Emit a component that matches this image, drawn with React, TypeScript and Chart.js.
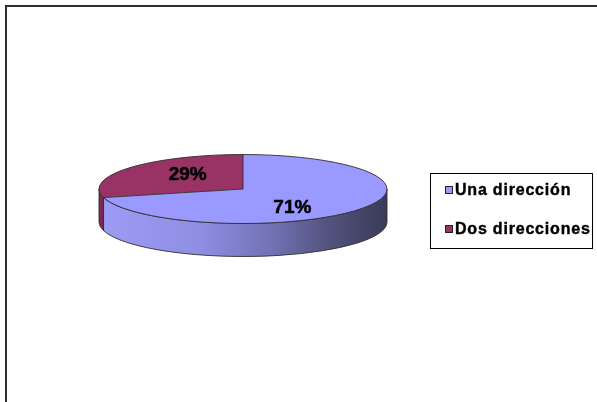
import React, { useEffect, useRef } from "react";
import { Chart, registerables } from "chart.js";

Chart.register(...registerables);

// ---- data ----
const categories: string[] = ["Una dirección", "Dos direcciones"];
const shares: number[] = [71, 29];
const topColors: string[] = ["#9999FF", "#993366"];

// ---- layout / style constants ----
const W = 597;
const H = 402;
const CX = 243;
const CY = 189;
const RX = 144;
const RY = 34.5;
const DEPTH = 33;
const FONT = '"Liberation Sans", Arial, sans-serif';

function sideFill(ctx: CanvasRenderingContext2D, i: number): CanvasGradient | string {
  if (i === 1) return "#7a2a52";
  const g = ctx.createLinearGradient(CX - RX, 0, CX + RX, 0);
  g.addColorStop(0, "#9c9cf6");
  g.addColorStop(0.35, "#8e8ee4");
  g.addColorStop(0.6, "#7272b4");
  g.addColorStop(0.8, "#52527e");
  g.addColorStop(1, "#3a3a58");
  return g;
}

const pie3d = {
  id: "pie3d",
  beforeDraw(chart: any) {
    const ctx: CanvasRenderingContext2D = chart.ctx;
    ctx.save();
    ctx.fillStyle = "#ffffff";
    ctx.fillRect(0, 0, W, H);
    ctx.strokeStyle = "#2e2e2e";
    ctx.lineWidth = 2;
    ctx.strokeRect(6, 6, 1000, 1000);
    ctx.restore();
  },
  beforeDatasetsDraw(chart: any) {
    const ctx: CanvasRenderingContext2D = chart.ctx;
    const arcs = chart.getDatasetMeta(0).data;
    // visible rim (lower half of the ellipse)
    arcs.forEach((arc: any, i: number) => {
      const a1 = arc.startAngle;
      const a2 = arc.endAngle;
      for (let k = -1; k <= 1; k++) {
        const lo = Math.max(a1, 2 * Math.PI * k);
        const hi = Math.min(a2, 2 * Math.PI * k + Math.PI);
        if (hi <= lo) continue;
        ctx.save();
        ctx.beginPath();
        ctx.ellipse(CX, CY, RX, RY, 0, lo, hi);
        ctx.ellipse(CX, CY + DEPTH, RX, RY, 0, hi, lo, true);
        ctx.closePath();
        ctx.fillStyle = sideFill(ctx, i);
        ctx.fill();
        ctx.strokeStyle = "#303030";
        ctx.lineWidth = 0.9;
        ctx.stroke();
        ctx.restore();
      }
    });
    const a0 = arcs[0];
    const r = a0.outerRadius;
    ctx.save();
    ctx.translate(CX, CY);
    ctx.scale(RX / r, RY / r);
    ctx.translate(-a0.x, -a0.y);
  },
  afterDatasetsDraw(chart: any) {
    const ctx: CanvasRenderingContext2D = chart.ctx;
    ctx.restore();
    const arcs = chart.getDatasetMeta(0).data;
    // outlines of the top face
    ctx.save();
    ctx.strokeStyle = "#303030";
    ctx.lineWidth = 0.9;
    ctx.beginPath();
    ctx.ellipse(CX, CY, RX, RY, 0, 0, Math.PI * 2);
    ctx.stroke();
    arcs.forEach((arc: any) => {
      ctx.beginPath();
      ctx.moveTo(CX, CY);
      ctx.lineTo(CX + RX * Math.cos(arc.startAngle), CY + RY * Math.sin(arc.startAngle));
      ctx.stroke();
    });
    // percentage labels
    const data: number[] = chart.data.datasets[0].data;
    const total = data.reduce((s, v) => s + v, 0);
    ctx.fillStyle = "#000000";
    ctx.strokeStyle = "#000000";
    ctx.lineWidth = 0.5;
    ctx.font = `bold 19px ${FONT}`;
    ctx.textAlign = "center";
    ctx.textBaseline = "middle";
    arcs.forEach((arc: any, i: number) => {
      const m = (arc.startAngle + arc.endAngle) / 2;
      const x = CX + Math.cos(m) * RX * 0.46 - 3;
      const y = CY + Math.sin(m) * RY * 0.78 + 2.5;
      const txt = `${Math.round((data[i] / total) * 100)}%`;
      ctx.fillText(txt, x, y);
      ctx.strokeText(txt, x, y);
    });
    ctx.restore();
  },
  afterDraw(chart: any) {
    const ctx: CanvasRenderingContext2D = chart.ctx;
    const labels: string[] = chart.data.labels;
    const colors: string[] = chart.data.datasets[0].backgroundColor;
    ctx.save();
    ctx.strokeStyle = "#000000";
    ctx.lineWidth = 1;
    ctx.strokeRect(430.5, 173.5, 162, 75);
    const rows = [190, 229];
    ctx.font = `bold 16px ${FONT}`;
    (ctx as any).letterSpacing = "0.8px";
    ctx.textAlign = "left";
    ctx.textBaseline = "middle";
    labels.forEach((lab, i) => {
      const y = rows[i];
      ctx.fillStyle = colors[i];
      ctx.fillRect(445, y - 4, 8, 8);
      ctx.strokeStyle = "#222222";
      ctx.lineWidth = 1;
      ctx.strokeRect(445.5, y - 3.5, 7, 7);
      ctx.fillStyle = "#000000";
      ctx.strokeStyle = "#000000";
      ctx.lineWidth = 0.4;
      ctx.fillText(lab, 455, y + 0.5);
      ctx.strokeText(lab, 455, y + 0.5);
    });
    ctx.restore();
  },
};

export default function App() {
  const ref = useRef<HTMLCanvasElement | null>(null);
  useEffect(() => {
    if (!ref.current) return;
    const chart = new Chart(ref.current, {
      type: "pie",
      data: {
        labels: categories,
        datasets: [
          {
            data: shares,
            backgroundColor: topColors,
            borderWidth: 0,
            hoverOffset: 0,
          },
        ],
      },
      options: {
        animation: false,
        responsive: false,
        events: [],
        layout: { padding: 0 },
        plugins: {
          legend: { display: false },
          tooltip: { enabled: false },
        },
      },
      plugins: [pie3d as any],
    });
    return () => chart.destroy();
  }, []);
  return (
    <div style={{ position: "absolute", left: 0, top: 0, width: W, height: H }}>
      <canvas ref={ref} width={W} height={H} style={{ display: "block", width: W, height: H }} />
    </div>
  );
}
